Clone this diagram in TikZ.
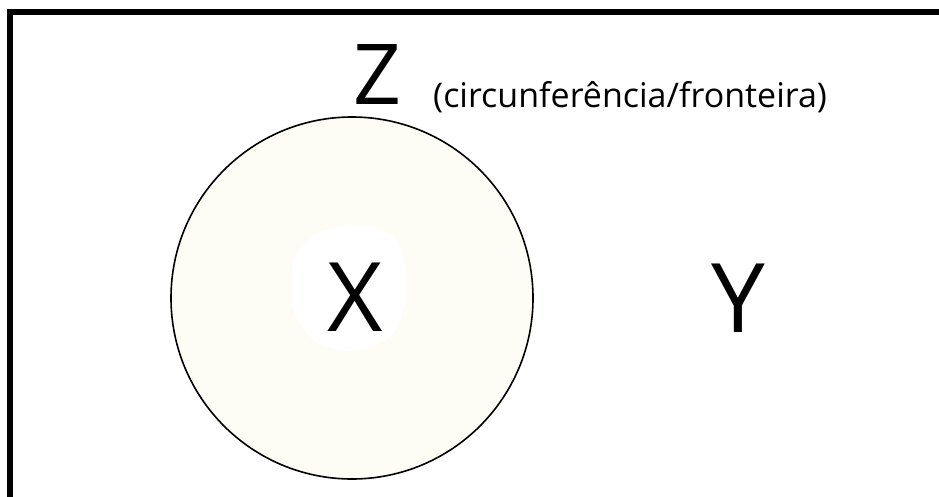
\documentclass[tikz,border=0pt]{standalone}
\usepackage{fontspec}
\setmainfont{Open Sans}
\usepackage{tikz}
\usetikzlibrary{positioning}
\definecolor{cream}{RGB}{253,253,246}

\begin{document}
\begin{tikzpicture}[
  x=1pt, y=-1pt,
  region/.style={draw, line width=1.6pt, fill=cream},
  big/.style={font=\fontsize{96}{96}\selectfont, inner sep=0pt},
  note/.style={font=\fontsize{34}{36}\selectfont, inner sep=0pt, anchor=west}]

\useasboundingbox (0,0) rectangle (939,497);
\draw[line width=6pt] (10,497) -- (10,12.5) -- (939,12.5);

\node[region, circle, minimum size=362pt] (circ) at (352,298) {};
% white patch behind X
\fill[white] plot[smooth cycle, tension=0.8] coordinates
  {(300,250) (335,228) (385,232) (405,265) (400,320) (375,345) (330,348) (298,320) (292,285)};
\node[big] (X) at (355,297) {X};
\node[big] (Y) at (738,298) {Y};
\node[big, font=\fontsize{84}{84}\selectfont] (Z) at (377,75) {Z};
\node[note] (lab) at (433,97) {(circunferência/fronteira)};
\end{tikzpicture}
\end{document}
